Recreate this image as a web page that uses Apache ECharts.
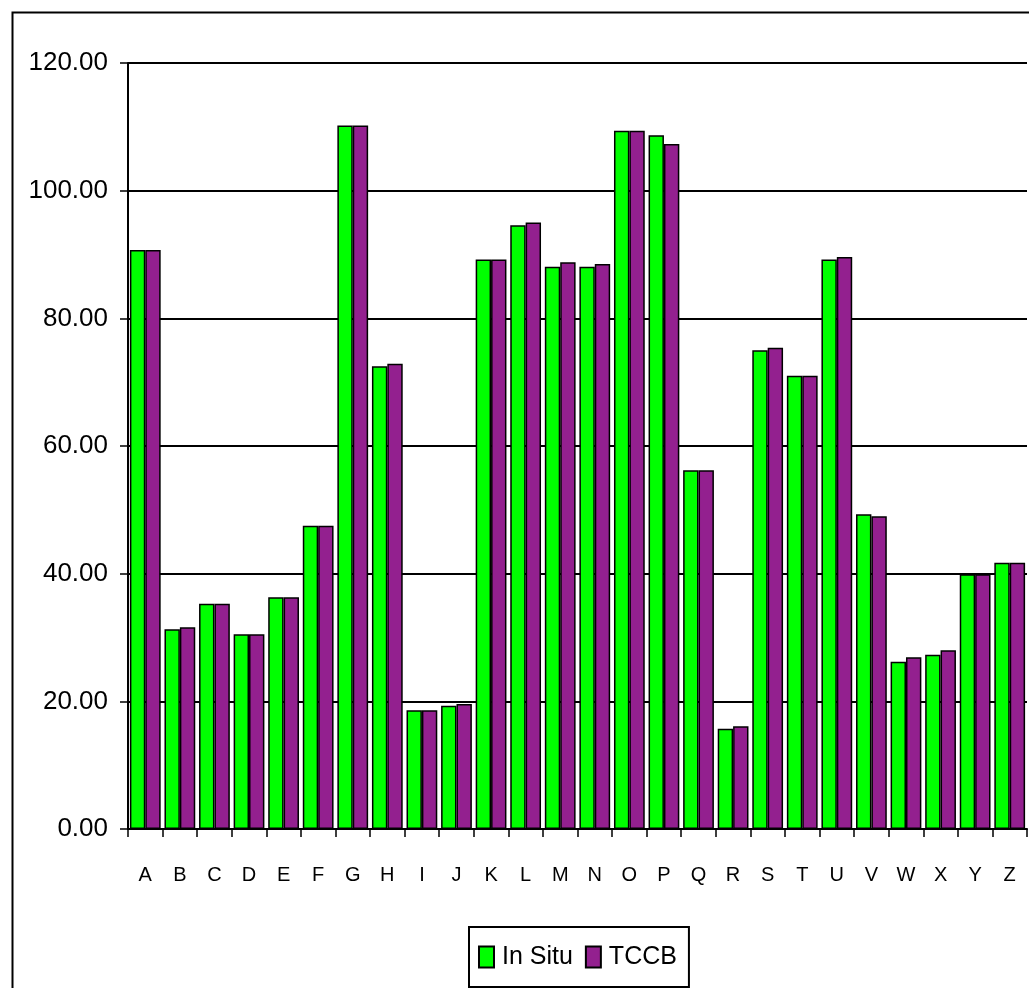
<!DOCTYPE html>
<html>
<head>
<meta charset="utf-8">
<script src="https://cdn.jsdelivr.net/npm/echarts@6/dist/echarts.min.js"></script>
<style>
html,body{margin:0;padding:0;background:#fff;}
#c{width:1029px;height:988px;}
</style>
</head>
<body>
<div id="c"></div>
<script>
const categories = ['A','B','C','D','E','F','G','H','I','J','K','L','M','N','O','P','Q','R','S','T','U','V','W','X','Y','Z'];
const inSitu = [90.7,31.3,35.3,30.5,36.3,47.5,110.2,72.5,18.6,19.3,89.2,94.6,88.1,88.1,109.4,108.7,56.2,15.7,75.0,71.0,89.2,49.3,26.2,27.3,39.9,41.7];
const tccb   = [90.7,31.6,35.3,30.5,36.3,47.5,110.2,72.9,18.6,19.6,89.2,95.0,88.8,88.5,109.4,107.3,56.2,16.1,75.4,71.0,89.6,49.0,26.9,28.0,39.9,41.7];
const seriesNames = ['In Situ','TCCB'];

const FONT = '"Liberation Sans", Arial, sans-serif';
const chart = echarts.init(document.getElementById('c'), null, {renderer:'canvas'});
chart.setOption({
  backgroundColor:'#ffffff',
  animation:false,
  graphic:[{
    type:'rect', left:10, top:10, shape:{width:1040, height:1000},
    style:{fill:'none', stroke:'#000', lineWidth:2}, z:-1
  }],
  grid:{left:128, right:2, top:63, bottom:159, containLabel:false},
  legend:{
    data:seriesNames,
    left:469, top:927,
    orient:'horizontal',
    padding:[15,12,15,9],
    borderColor:'#000', borderWidth:2,
    itemWidth:15, itemHeight:21, itemGap:12,
    icon:'rect',
    textStyle:{fontFamily:FONT, fontSize:25, lineHeight:30, color:'#000', padding:[0,0,0,3]}
  },
  xAxis:{
    type:'category',
    data:categories,
    axisLine:{lineStyle:{color:'#000', width:2}},
    axisTick:{show:true, length:8, alignWithLabel:false, lineStyle:{color:'#000', width:1.5}},
    axisLabel:{fontFamily:FONT, fontSize:20, color:'#000', margin:36, interval:0},
    splitLine:{show:false}
  },
  yAxis:{
    type:'value',
    min:0, max:120, interval:20,
    axisLine:{show:true, lineStyle:{color:'#000', width:2}},
    axisTick:{show:true, length:8, lineStyle:{color:'#000', width:1.5}},
    axisLabel:{fontFamily:FONT, fontSize:26, color:'#000', margin:20,
      formatter:v => v.toFixed(2)},
    splitLine:{show:true, lineStyle:{color:'#000', width:2}}
  },
  series:[
    {name:seriesNames[0], type:'bar', data:inSitu, barGap:'0%', barCategoryGap:'11%',
      itemStyle:{color:'#00ff00', borderColor:'#000', borderWidth:1.5}},
    {name:seriesNames[1], type:'bar', data:tccb, barGap:'0%', barCategoryGap:'11%',
      itemStyle:{color:'#93208f', borderColor:'#000', borderWidth:1.5}}
  ]
});
</script>
</body>
</html>
